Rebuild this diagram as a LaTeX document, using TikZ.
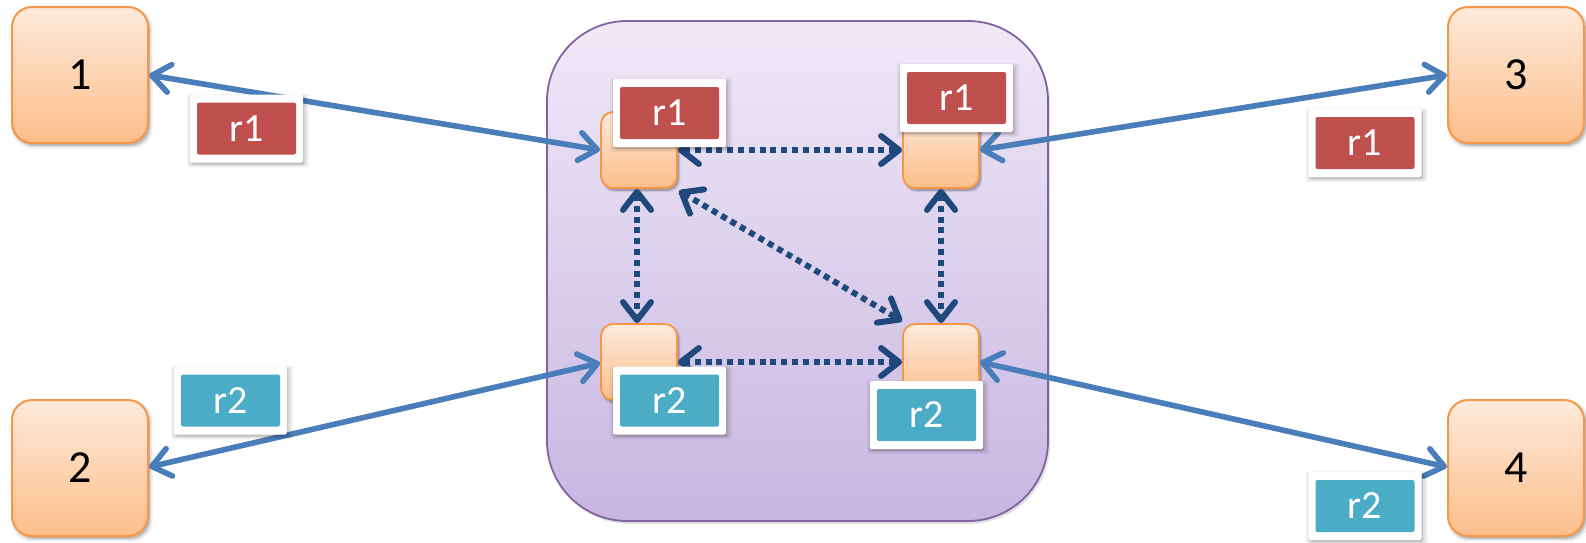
\documentclass[tikz,border=0pt]{standalone}
\usepackage{fontspec}
\setmainfont{Carlito}
\usetikzlibrary{shadows,arrows.meta}

\definecolor{peachTop}{HTML}{FEEADB}
\definecolor{peachBot}{HTML}{FCBE8A}
\definecolor{peachLine}{HTML}{F79646}
\definecolor{lilacTop}{HTML}{EFE9F7}
\definecolor{lilacBot}{HTML}{C8B6E1}
\definecolor{lilacLine}{HTML}{8064A2}
\definecolor{tagRed}{HTML}{C0504D}
\definecolor{tagTeal}{HTML}{4BACC6}
\definecolor{linkBlue}{HTML}{4A7EBB}
\definecolor{meshNavy}{HTML}{1F497D}

\tikzset{
  % layered shadow that fades out softly
  softshadow/.style={
    drop shadow={shadow xshift=1pt, shadow yshift=-1.4pt, shadow scale=1.00, opacity=0.16, fill=black},
    drop shadow={shadow xshift=1pt, shadow yshift=-1.4pt, shadow scale=1.02, opacity=0.08, fill=black},
    drop shadow={shadow xshift=1pt, shadow yshift=-1.4pt, shadow scale=1.04, opacity=0.05, fill=black}},
  tagshadow/.style={
    drop shadow={shadow xshift=0.7pt, shadow yshift=-1pt, shadow scale=1.00, opacity=0.14, fill=black},
    drop shadow={shadow xshift=0.7pt, shadow yshift=-1pt, shadow scale=1.04, opacity=0.08, fill=black},
    drop shadow={shadow xshift=0.7pt, shadow yshift=-1pt, shadow scale=1.08, opacity=0.05, fill=black}},
  hub/.style={draw=lilacLine, line width=0.9pt, rounded corners=40pt,
    top color=lilacTop, bottom color=lilacBot,
    minimum width=250.5pt, minimum height=250pt, inner sep=0pt,
    drop shadow={shadow xshift=1pt, shadow yshift=-1.4pt, opacity=0.12, fill=black}},
  endpoint/.style={draw=peachLine, line width=1pt, rounded corners=10pt,
    top color=peachTop, bottom color=peachBot,
    minimum width=68pt, minimum height=68pt, inner sep=0pt,
    font=\fontsize{23}{27}\selectfont, softshadow},
  switchbox/.style={draw=peachLine, line width=0.9pt, rounded corners=6pt,
    top color=peachTop, bottom color=peachBot,
    minimum width=38pt, minimum height=38pt, inner sep=0pt, softshadow},
  tag/.style={fill=white, minimum width=56.5pt, minimum height=34pt, rounded corners=1pt,
    inner sep=0pt, text=white, font=\fontsize{20}{24}\selectfont,
    path picture={\fill[#1]
      ([xshift=3.5pt,yshift=4pt]path picture bounding box.south west) rectangle
      ([xshift=-3.5pt,yshift=-4pt]path picture bounding box.north east);},
    tagshadow},
  redtag/.style={tag=tagRed},
  tealtag/.style={tag=tagTeal},
  uplink/.style={draw=linkBlue, line width=2.8pt, line cap=round,
    {Straight Barb[length=9pt,width=14pt,line cap=round,line join=round]}-{Straight Barb[length=9pt,width=14pt,line cap=round,line join=round]}},
  meshlink/.style={draw=meshNavy, line width=3pt, dash pattern=on 3pt off 2.4pt,
    {Straight Barb[length=9pt,width=14pt,line cap=round,line join=round]}-{Straight Barb[length=9pt,width=14pt,line cap=round,line join=round]}}
}

\begin{document}
\begin{tikzpicture}[x=0.5pt, y=-0.5pt]
\useasboundingbox (0,0) rectangle (1586,542);

% central fabric
\node[hub] (fabric) at (797.5,271) {};

% outer end points
\node[endpoint] (e1) at (80,75) {1};
\node[endpoint] (e2) at (80,468) {2};
\node[endpoint] (e3) at (1516,75) {3};
\node[endpoint] (e4) at (1516,468) {4};

% inner switches
\node[switchbox] (tl) at (639,150) {};
\node[switchbox] (tr) at (941,150) {};
\node[switchbox] (bl) at (639,362) {};
\node[switchbox] (br) at (941,362) {};

% mesh between the switches
\draw[meshlink] (tl.east) -- (tr.west);
\draw[meshlink] (bl.east) -- (br.west);
\draw[meshlink] ([xshift=-1pt]tl.south) -- ([xshift=-1pt]bl.north);
\draw[meshlink] (tr.south) -- (br.north);
\draw[meshlink] ([xshift=0.5pt,yshift=-1pt]tl.south east) -- ([xshift=0pt,yshift=1pt]br.north west);

% links to the end points
\draw[uplink] (e1.east) -- (tl.west);
\draw[uplink] ([yshift=0.5pt]e2.east) -- ([yshift=-0.5pt]bl.west);
\draw[uplink] (e3.west) -- (tr.east);
\draw[uplink] ([yshift=0.5pt]e4.west) -- (br.east);

% route tags
\node[redtag] (t1) at (246.5,128.5) {r1};
\node[tealtag] (t2) at (230.5,400.5) {r2};
\node[redtag] (t3) at (1365,143) {r1};
\node[tealtag] (t4) at (1365,506) {r2};
\node[redtag] (stl) at (669.5,113) {r1};
\node[redtag] (str) at (956.5,98) {r1};
\node[tealtag] (sbl) at (669.5,400.5) {r2};
\node[tealtag] (sbr) at (926.5,415) {r2};
\end{tikzpicture}
\end{document}
